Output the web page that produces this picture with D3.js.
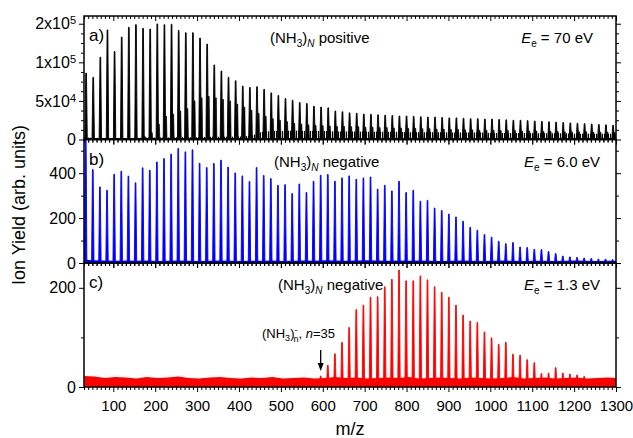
<!DOCTYPE html>
<html><head><meta charset="utf-8">
<script src="https://cdn.jsdelivr.net/npm/d3@7"></script>
<style>body{margin:0;background:#fff} svg{font-family:"Liberation Sans",Arial,sans-serif}</style>
</head><body><svg id="chart" width="633" height="438"></svg>
<script>
// ---------- data ----------
// panel a: positive (NH3)nH+ main peaks
const mzA = [35,52,69,86,103,120,137,154,171,188,205,222,239,256,273,290,307,324,341,358,375,392,409,426,443,460,477,494,511,528,545,562,579,596,613,630,647,664,681,698,715,732,749,766,783,800,817,834,851,868,885,902,919,936,953,970,987,1004,1021,1038,1055,1072,1089,1106,1123,1140,1157,1174,1191,1208,1225,1242,1259,1276,1293];
const yieldA = [86000,80500,106600,142000,114000,132700,145300,148800,144000,143100,149700,148800,149200,141300,138300,138300,131400,123600,96600,88700,80500,76100,69200,67500,68300,64900,60400,57000,53100,50900,47900,46600,43100,42000,41000,37000,36000,34500,34000,33000,32500,32000,31500,31000,30500,30500,30000,29500,29000,29000,28500,28000,28000,27500,27000,27000,26500,26500,26000,25500,25000,25000,24500,24000,23500,23000,22500,22000,21500,21000,20500,20000,19500,19000,18500];
// panel a: companion (smaller) peaks
const mzA2 = [175,192,209,226,243,260,277,294,311,328,345,362,379,396,413,430,447,464,481,498,515,532,549,566,583,600,617,634,651,668,685,702,719,736,753,770,787,804,821,838,855,872,889,906,923,940,957,974,991,1008,1025,1042,1059,1076,1093,1110,1127,1144,1161,1178,1195,1212,1229,1246,1263,1280,1297];
const yieldA2 = [4000,9000,20000,30000,33000,37000,40000,50000,54000,56000,54000,52000,50000,46000,42000,38000,34000,30000,27000,25000,23000,21000,20000,19000,18500,18000,17500,17000,17000,16500,16500,16000,16000,15500,15500,15000,15000,14500,14500,14000,14000,13500,13500,13000,13000,12500,12500,12000,12000,12000,11500,11500,11500,11000,11000,11000,10500,10500,10500,10000,10000,10000,10000,9500,9500,9500,9000];
// panel b: negative, Ee = 6.0 eV
const mzB = [34,51,68,85,102,119,136,153,170,187,204,221,238,255,272,289,306,323,340,357,374,391,408,425,442,459,476,493,510,527,544,561,578,595,612,629,646,663,680,697,714,731,748,765,782,799,816,833,850,867,884,901,918,935,952,969,986,1003,1020,1037,1054,1071,1088,1105,1122,1139,1156,1173,1190,1207,1224,1241,1258,1275,1292];
const yieldB = [600,416,339,324,395,409,387,357,424,413,450,465,485,510,495,504,444,425,443,458,427,401,388,363,425,390,376,346,349,309,352,314,364,391,394,364,379,388,373,379,383,329,346,321,364,314,324,275,279,245,234,218,205,186,159,146,127,115,97,86,91,71,69,61,60,51,42,31,27,25,22,20,17,17,15];
// panel c: negative, Ee = 1.3 eV
const mzC = [595,612,629,646,663,680,697,714,731,748,765,782,799,816,833,850,867,884,901,918,935,952,969,986,1003,1020,1037,1054,1071,1088,1105,1122,1139,1156,1173,1190,1207,1224];
const yieldC = [22,44,67,90,120,156,165,181,182,202,217,236,214,214,224,216,202,191,181,165,145,133,130,111,99,86,90,66,64,55,49,27,28,39,28,26,24,21];
// baseline noise envelopes (read every 25 m/z)
const noiseMz = [30,55,80,105,130,155,180,205,230,255,280,305,330,355,380,405,430,455,480,505,530,555,580,605,630,655,680,705,730,755,780,805,830,855,880,905,930,955,980,1005,1030,1055,1080,1105,1130,1155,1180,1205,1230,1255,1280,1305];
const noiseA = [3000,2000,2000,2000,2000,2000,2500,2500,2500,3000,3000,3000,3500,3500,3500,4000,5000,10000,11000,11000,11500,11000,11000,11000,10500,10500,10500,10000,10000,10000,10000,9500,9500,9500,9500,9000,9000,9000,9000,8500,8500,8500,8500,8000,8000,8000,8000,7500,7500,7500,7500,7500];
const noiseB = [14,12,11,10,11,10,11,9,10,11,10,9,10,11,10,9,10,10,11,9,10,11,10,12,11,10,11,12,11,10,11,10,11,10,9,10,11,10,9,10,11,10,9,10,10,9,10,11,10,9,10,10];
const noiseC = [22,21,18,20,19,17,20,18,19,21,18,17,19,20,18,17,19,18,20,17,18,19,17,18,20,18,19,17,18,19,18,20,17,18,19,18,17,19,18,17,18,20,17,18,19,17,18,19,17,18,19,18];

// axis ticks
const xMajor = [100,200,300,400,500,600,700,800,900,1000,1100,1200,1300];
const yTicksA = [0,50000,100000,150000];
const yLabelMantA = ["0","5","1","2"];
const yLabelExpA = [null,"4","5","5"];
const yTicksB = [0,200,400];
const yTicksC = [0,200];

// ---------- layout ----------
const svg = d3.select("#chart");
const defs = svg.append("defs");
const pat = defs.append("pattern").attr("id","dense").attr("patternUnits","userSpaceOnUse")
  .attr("width",2).attr("height",4);
pat.append("rect").attr("x",0).attr("y",0).attr("width",1.1).attr("height",4).attr("fill","#000");

const L = 84, R = 616;
const x = d3.scaleLinear().domain([30,1300]).range([L,R]);
const xMinor = d3.range(30,1301,10).filter(v => v % 100 !== 0);

const panels = [
  {top:16, bot:139.5, dom:[0,160000], mz:mzA, val:yieldA, noise:noiseA, noiseFill:"url(#dense)", color:"#000", ticks:yTicksA, minorStep:12500, label:"a)", sign:"positive", ee:"70 eV"},
  {top:139.5, bot:263, dom:[0,550], mz:mzB, val:yieldB, noise:noiseB, noiseFill:"#0000ff", color:"#0000ff", ticks:yTicksB, minorStep:100, label:"b)", sign:"negative", ee:"6.0 eV"},
  {top:263, bot:387, dom:[0,250], mz:mzC, val:yieldC, noise:noiseC, noiseFill:"#ff0000", color:"#ff0000", ticks:yTicksC, minorStep:100, label:"c)", sign:"negative", ee:"1.3 eV"}
];

function peakPath(xs, y, d, w) {
  const xm = xs(d[0]), yb = y(0), yt = y(d[1]);
  return `M${xm-w},${yb}L${xm-0.35},${yt}L${xm+0.35},${yt}L${xm+w},${yb}Z`;
}

panels.forEach((p,i) => {
  const y = d3.scaleLinear().domain(p.dom).range([p.bot,p.top]);
  const g = svg.append("g");
  const cid = "clip"+i;
  defs.append("clipPath").attr("id",cid).append("rect")
     .attr("x",L).attr("y",p.top).attr("width",R-L).attr("height",p.bot-p.top);
  const dg = g.append("g").attr("clip-path","url(#"+cid+")");
  // noise band
  dg.append("path")
    .datum(noiseMz.map((m,k)=>[m,p.noise[k]]))
    .attr("fill",p.noiseFill)
    .attr("d", d3.area().x(d=>x(d[0])).y0(y(0)).y1(d=>y(d[1])));
  // baseline
  dg.append("line").attr("x1",L).attr("x2",R).attr("y1",y(0)-0.5).attr("y2",y(0)-0.5)
    .attr("stroke",p.color).attr("stroke-width",2);
  // companion peaks (panel a)
  if (i === 0) {
    dg.selectAll("path.pk2").data(mzA2.map((m,k)=>[m,yieldA2[k]])).join("path")
      .attr("class","pk2").attr("fill",p.color).attr("stroke",p.color).attr("stroke-width",0.7)
      .attr("d", d => peakPath(x, y, d, 0.9));
  }
  // main peaks
  dg.selectAll("path.pk").data(p.mz.map((m,k)=>[m,p.val[k]])).join("path")
    .attr("class","pk")
    .attr("fill",p.color).attr("stroke",p.color).attr("stroke-width",0.9)
    .attr("d", d => peakPath(x, y, d, 1.2));

  // axes
  const ag = g.append("g");
  const minorY = d3.range(p.dom[0], p.dom[1]+1, p.minorStep).filter(v => !p.ticks.includes(v));
  const left = ag.append("g").attr("transform",`translate(${L},0)`)
    .call(d3.axisLeft(y).tickValues(p.ticks).tickSize(5).tickPadding(3));
  left.select(".domain").remove();
  left.selectAll("text").attr("font-size",16);
  ag.append("g").attr("transform",`translate(${L},0)`)
    .call(d3.axisLeft(y).tickValues(minorY).tickSize(3).tickFormat(""))
    .select(".domain").remove();
  ag.append("g").attr("transform",`translate(${R},0)`)
    .call(d3.axisRight(y).tickValues(p.ticks).tickSize(5).tickFormat(""))
    .select(".domain").remove();
  ag.append("g").attr("transform",`translate(${R},0)`)
    .call(d3.axisRight(y).tickValues(minorY).tickSize(3).tickFormat(""))
    .select(".domain").remove();
  ag.append("g").attr("transform",`translate(0,${p.top})`)
    .call(d3.axisTop(x).tickValues(xMajor).tickSize(-5).tickFormat(""))
    .select(".domain").remove();
  ag.append("g").attr("transform",`translate(0,${p.top})`)
    .call(d3.axisTop(x).tickValues(xMinor).tickSize(-3).tickFormat(""))
    .select(".domain").remove();
  const bot = ag.append("g").attr("transform",`translate(0,${p.bot})`)
    .call(d3.axisBottom(x).tickValues(xMajor).tickSize(5).tickPadding(8).tickFormat(i===2? d3.format("d") : ""));
  bot.select(".domain").remove();
  bot.selectAll("text").attr("font-size",15);
  ag.append("g").attr("transform",`translate(0,${p.bot})`)
    .call(d3.axisBottom(x).tickValues(xMinor).tickSize(3).tickFormat(""))
    .select(".domain").remove();
  ag.selectAll("line").attr("stroke","#000").attr("stroke-width",1);
  ag.selectAll("text").attr("fill","#000").attr("font-family","Liberation Sans, Arial, sans-serif");

  if (i === 0) {
    left.selectAll(".tick text").each(function(d){
      const k = p.ticks.indexOf(d);
      const t = d3.select(this).text(null);
      t.append("tspan").text(yLabelMantA[k] + (yLabelExpA[k] ? "x10" : ""));
      if (yLabelExpA[k]) t.append("tspan").attr("dy","-0.45em").attr("font-size",11).text(yLabelExpA[k]);
    });
  }

  // frame
  g.append("rect").attr("x",L).attr("y",p.top).attr("width",R-L).attr("height",p.bot-p.top)
    .attr("fill","none").attr("stroke","#000").attr("stroke-width",1.5);

  // texts
  const ty = p.top + 27;
  g.append("text").attr("x",L+5).attr("y",p.top+25).attr("font-size",17).text(p.label);
  const t1 = g.append("text").attr("x", [270,274,278][i]).attr("y",ty).attr("font-size",15);
  t1.append("tspan").text("(NH");
  t1.append("tspan").attr("font-size",10).attr("dy",4).text("3");
  t1.append("tspan").attr("dy",-4).text(")");
  t1.append("tspan").attr("font-size",10).attr("dy",4).attr("font-style","italic").text("N");
  t1.append("tspan").attr("dy",-4).text(" " + p.sign);
  const t2 = g.append("text").attr("x", [593,600,600][i]).attr("y",ty).attr("font-size",15).attr("text-anchor","end");
  t2.append("tspan").attr("font-style","italic").text("E");
  t2.append("tspan").attr("font-size",10).attr("dy",4).text("e");
  t2.append("tspan").attr("dy",-4).text(" = " + p.ee);
});

// annotation in panel c
const ann = svg.append("text").attr("x",262).attr("y",338).attr("font-size",13);
ann.append("tspan").text("(NH");
ann.append("tspan").attr("font-size",9).attr("dy",3).text("3");
ann.append("tspan").attr("dy",-3).text(")");
ann.append("tspan").attr("font-size",9).attr("dy",-5).text("-");
ann.append("tspan").attr("font-size",9).attr("dx",-4).attr("dy",9).text("n");
ann.append("tspan").attr("dy",-4).text(", ");
ann.append("tspan").attr("font-style","italic").text("n");
ann.append("tspan").text("=35");
const ax = x(595);
svg.append("line").attr("x1",ax).attr("x2",ax).attr("y1",350).attr("y2",364).attr("stroke","#000").attr("stroke-width",1.3);
svg.append("path").attr("d",`M${ax-3},${363}L${ax+3},${363}L${ax},${371}Z`).attr("fill","#000");

// axis titles
svg.append("text").attr("transform","translate(25,205) rotate(-90)").attr("text-anchor","middle")
  .attr("font-size",18).text("Ion Yield (arb. units)");
svg.append("text").attr("x",350).attr("y",435).attr("text-anchor","middle").attr("font-size",18).text("m/z");
</script></body></html>
